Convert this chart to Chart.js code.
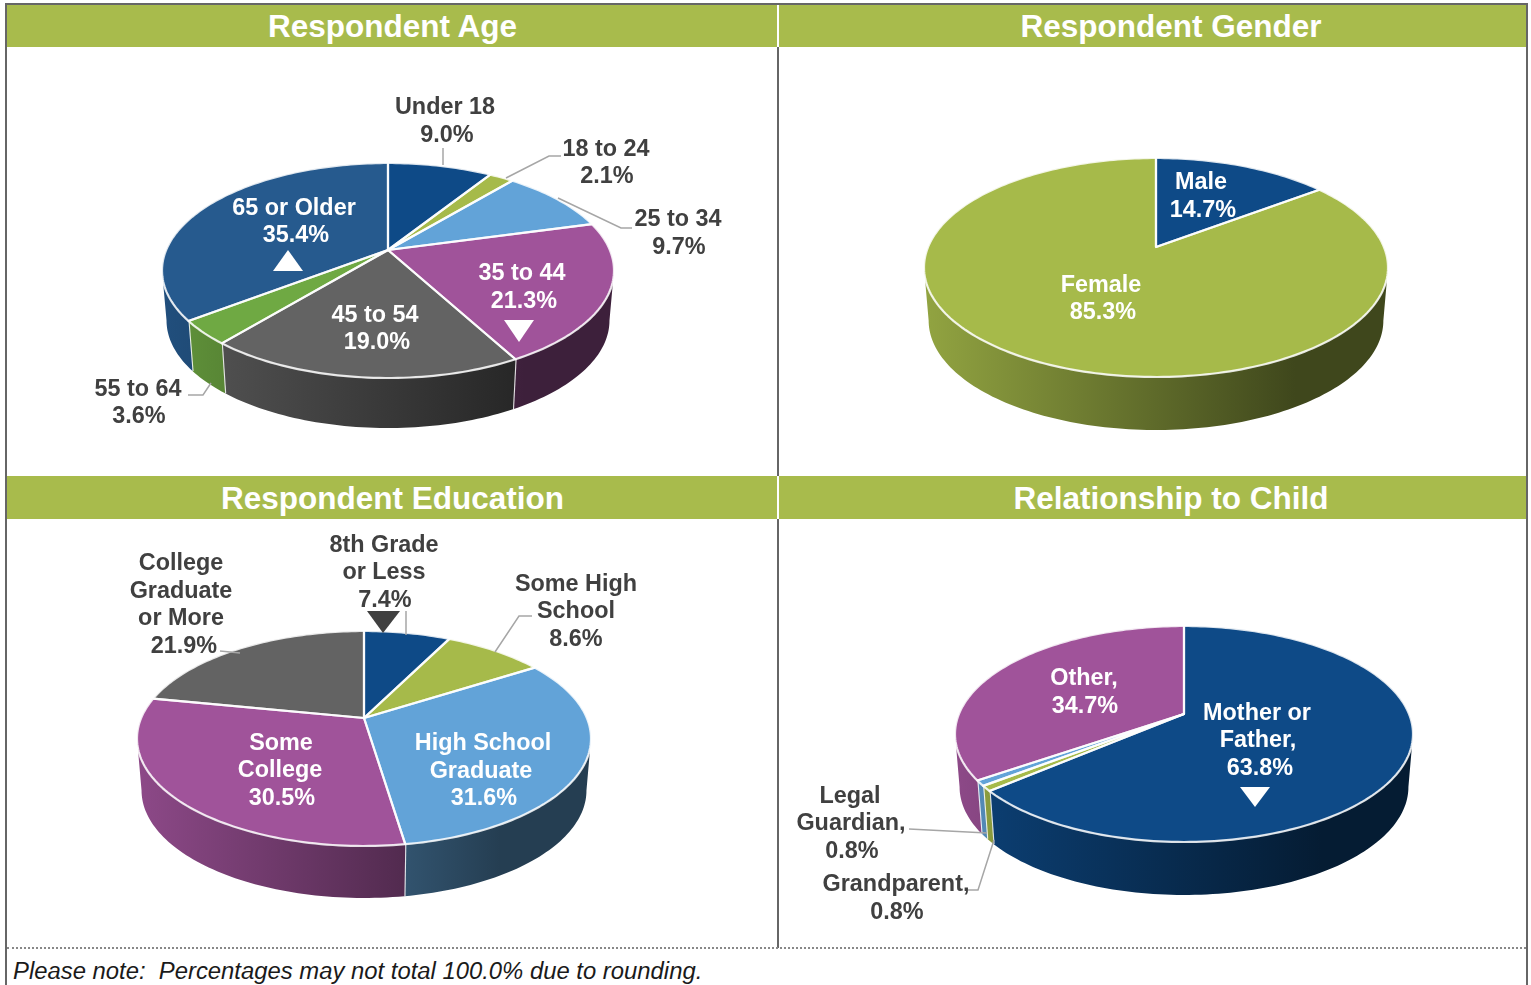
<!DOCTYPE html>
<html>
<head>
<meta charset="utf-8">
<title>Respondent charts</title>
<script src="https://cdn.jsdelivr.net/npm/chart.js@4"></script>
<style>
  html, body { margin: 0; padding: 0; background: #fff; overflow: hidden; }
  body { width: 1531px; height: 985px; position: relative; font-family: 'Liberation Sans', Arial, sans-serif; }
  canvas { position: absolute; }
  .bar { position: absolute; background: #666; }
  .head { position: absolute; height: 42px; line-height: 42px; background: #a8bb4c; color: #fff;
    font-size: 31.5px; font-weight: bold; text-align: center; box-sizing: border-box; }
  .note { position: absolute; left: 13px; top: 957px; font-size: 23.85px; line-height: 28px; font-style: italic;
    color: #1a1a1a; white-space: pre; }
  .dots { position: absolute; left: 7px; top: 947px; width: 1519px; border-top: 2px dotted #888; }
</style>
</head>
<body>
<div class="bar" style="left:5px;top:3px;width:1523px;height:2px"></div>
<div class="bar" style="left:5px;top:3px;width:2px;height:982px"></div>
<div class="bar" style="left:1526px;top:3px;width:2px;height:982px"></div>
<div class="bar" style="left:777px;top:47px;width:2px;height:429px"></div>
<div class="bar" style="left:777px;top:519px;width:2px;height:429px"></div>

<div class="head" style="left:7px;top:5px;width:770px;padding-left:1px">Respondent Age</div>
<div class="head" style="left:779px;top:5px;width:747px;padding-left:37px">Respondent Gender</div>
<div class="head" style="left:7px;top:476px;width:770px;height:43px;line-height:44px;padding-left:1px">Respondent Education</div>
<div class="head" style="left:779px;top:476px;width:747px;height:43px;line-height:44px;padding-left:37px">Relationship to Child</div>

<canvas id="ageChart" width="770" height="428" style="left:7px;top:47px"></canvas>
<canvas id="genderChart" width="747" height="428" style="left:779px;top:47px"></canvas>
<canvas id="eduChart" width="770" height="428" style="left:7px;top:519px"></canvas>
<canvas id="relChart" width="747" height="428" style="left:779px;top:519px"></canvas>

<div class="dots"></div>
<div class="note">Please note:  Percentages may not total 100.0% due to rounding.</div>

<script>
const NAVY = '#0e4a87', OLIVE = '#a6ba4a', SKY = '#62a3d8', PURPLE = '#a0539a',
  GRAY = '#636363', GREEN = '#6fa943', STEEL = '#265a8e';

const ageLabels = [['Under 18'], ['18 to 24'], ['25 to 34'], ['35 to 44'], ['45 to 54'], ['55 to 64'], ['65 or Older']];
const ageValues = [9.0, 2.1, 9.7, 21.3, 19.0, 3.6, 35.4];
const ageColors = [NAVY, OLIVE, SKY, PURPLE, GRAY, GREEN, STEEL];

const genderLabels = [['Male'], ['Female']];
const genderValues = [14.7, 85.3];
const genderColors = [NAVY, OLIVE];

const eduLabels = [['8th Grade', 'or Less'], ['Some High', 'School'], ['High School', 'Graduate'], ['Some', 'College'], ['College', 'Graduate', 'or More']];
const eduValues = [7.4, 8.6, 31.6, 30.5, 21.9];
const eduColors = [NAVY, OLIVE, SKY, PURPLE, GRAY];

const relLabels = [['Mother or', 'Father,'], ['Grandparent,'], ['Legal', 'Guardian,'], ['Other,']];
const relValues = [63.8, 0.8, 0.8, 34.7];
const relColors = [NAVY, OLIVE, SKY, PURPLE];

// page-space centre of each text line, per slice
const agePos = [
  [[445, 108], [447, 136]], [[606, 150], [607, 177]], [[678, 220], [679, 248]],
  [[522, 274], [524, 302]], [[375, 316], [377, 343]], [[138, 390], [139, 417]], [[294, 209], [296, 236]]
];
const genderPos = [[[1201, 183], [1203, 211]], [[1101, 286], [1103, 313]]];
const eduPos = [
  [[384, 546], [384, 573], [385, 601]], [[576, 585], [576, 612], [576, 640]],
  [[483, 744], [481, 772], [484, 799]], [[281, 744], [280, 771], [282, 799]],
  [[181, 564], [181, 592], [181, 619], [184, 647]]
];
const relPos = [
  [[1257, 714], [1258, 741], [1260, 769]], [[896, 885], [897, 913]],
  [[850, 797], [851, 824], [852, 852]], [[1084, 679], [1085, 707]]
];

function shade(hex, f) {
  const n = parseInt(hex.slice(1), 16);
  return 'rgb(' + Math.round((n >> 16) * f) + ',' + Math.round(((n >> 8) & 255) * f) + ',' + Math.round((n & 255) * f) + ')';
}

// the tilted pie: a circle seen in perspective, so the apex sits above the middle of the ellipse
function tilt(g) {
  const k = (g.front - g.back) / (g.front + g.back);
  return {
    k: k,
    a: g.halfWidth * Math.sqrt(1 - k * k),
    b: g.front * (1 - k),
    point: function (theta, drop, shrink) {
      const x = Math.sin(theta), y = -Math.cos(theta), d = 1 - k * y;
      return [g.x + this.a * x / d * shrink, g.y + this.b * y / d + drop];
    }
  };
}

const tiltPlugin = {
  id: 'tiltPie',
  beforeDatasetDraw(chart) {
    const o = chart.options.plugins.tiltPie, g = o.geo, ctx = chart.ctx, t = tilt(g);
    const arcs = chart.getDatasetMeta(0).data, colors = chart.data.datasets[0].backgroundColor;
    const wallFrom = Math.PI / 2 + Math.asin(t.k), wallTo = 3 * Math.PI / 2 - Math.asin(t.k);
    const STEPS = 4;

    ctx.save();
    ctx.translate(-o.offset[0], -o.offset[1]);

    // side walls
    arcs.forEach(function (arc, i) {
      const s = Math.max(arc.startAngle + Math.PI / 2, wallFrom), e = Math.min(arc.endAngle + Math.PI / 2, wallTo);
      if (e <= s) return;
      const n = Math.max(2, Math.ceil((e - s) * 180 / STEPS));
      const grad = ctx.createLinearGradient(g.x - g.halfWidth, 0, g.x + g.halfWidth, 0);
      grad.addColorStop(0, shade(colors[i], 0.88));
      grad.addColorStop(0.8, shade(colors[i], 0.38));
      grad.addColorStop(1, shade(colors[i], 0.38));
      ctx.beginPath();
      for (let j = 0; j <= n; j++) {
        const p = t.point(s + (e - s) * j / n, 0, 1);
        j ? ctx.lineTo(p[0], p[1]) : ctx.moveTo(p[0], p[1]);
      }
      for (let j = n; j >= 0; j--) {
        const p = t.point(s + (e - s) * j / n, g.depth, g.shrink);
        ctx.lineTo(p[0], p[1]);
      }
      ctx.closePath();
      ctx.fillStyle = grad;
      ctx.fill();
      if (e < wallTo) {
        const p = t.point(e, 0, 1), q = t.point(e, g.depth, g.shrink);
        ctx.beginPath();
        ctx.moveTo(p[0], p[1]);
        ctx.lineTo(q[0], q[1]);
        ctx.strokeStyle = 'rgba(255,255,255,0.85)';
        ctx.lineWidth = 2.2;
        ctx.stroke();
      }
    });

    // top face
    arcs.forEach(function (arc, i) {
      const s = arc.startAngle + Math.PI / 2, e = arc.endAngle + Math.PI / 2;
      const n = Math.max(2, Math.ceil((e - s) * 180 / STEPS));
      ctx.beginPath();
      ctx.moveTo(g.x, g.y);
      for (let j = 0; j <= n; j++) {
        const p = t.point(s + (e - s) * j / n, 0, 1);
        ctx.lineTo(p[0], p[1]);
      }
      ctx.closePath();
      ctx.fillStyle = colors[i];
      ctx.fill();
    });
    arcs.forEach(function (arc) {
      const s = arc.startAngle + Math.PI / 2, e = arc.endAngle + Math.PI / 2;
      const n = Math.max(2, Math.ceil((e - s) * 180 / STEPS));
      ctx.beginPath();
      ctx.moveTo(g.x, g.y);
      for (let j = 0; j <= n; j++) {
        const p = t.point(s + (e - s) * j / n, 0, 1);
        ctx.lineTo(p[0], p[1]);
      }
      ctx.closePath();
      ctx.strokeStyle = 'rgba(255,255,255,0.85)';
      ctx.lineWidth = 2.2;
      ctx.lineJoin = 'round';
      ctx.stroke();
    });
    ctx.restore();
    return false;
  },
  afterDatasetsDraw(chart) {
    const o = chart.options.plugins.tiltPie, ctx = chart.ctx;
    const labels = chart.data.labels, values = chart.data.datasets[0].data;
    ctx.save();
    ctx.translate(-o.offset[0], -o.offset[1]);

    ctx.strokeStyle = '#a6a6a6';
    ctx.lineWidth = 1.5;
    o.leaders.forEach(function (line) {
      ctx.beginPath();
      line.forEach(function (p, j) { j ? ctx.lineTo(p[0], p[1]) : ctx.moveTo(p[0], p[1]); });
      ctx.stroke();
    });

    o.marks.forEach(function (m) {
      ctx.beginPath();
      ctx.moveTo(m.pts[0][0], m.pts[0][1]);
      ctx.lineTo(m.pts[1][0], m.pts[1][1]);
      ctx.lineTo(m.pts[2][0], m.pts[2][1]);
      ctx.closePath();
      ctx.fillStyle = m.color;
      ctx.fill();
    });

    ctx.font = 'bold 23.4px "Liberation Sans", Arial, sans-serif';
    ctx.textAlign = 'center';
    ctx.textBaseline = 'middle';
    labels.forEach(function (lines, i) {
      const all = lines.concat([values[i].toFixed(1) + '%']);
      ctx.fillStyle = o.inside.indexOf(i) >= 0 ? '#ffffff' : '#404040';
      all.forEach(function (txt, j) {
        ctx.fillText(txt, o.pos[i][j][0], o.pos[i][j][1]);
      });
    });
    ctx.restore();
  }
};

function makePie(id, labels, values, colors, extra) {
  return new Chart(document.getElementById(id), {
    type: 'pie',
    data: {
      labels: labels,
      datasets: [{ data: values, backgroundColor: colors }]
    },
    options: {
      responsive: false,
      animation: false,
      events: [],
      plugins: {
        legend: { display: false },
        tooltip: { enabled: false },
        tiltPie: extra
      }
    },
    plugins: [tiltPlugin]
  });
}

makePie('ageChart', ageLabels, ageValues, ageColors, {
  offset: [7, 47],
  geo: { x: 388, y: 250, back: 87, front: 128, halfWidth: 226, depth: 50, shrink: 0.98 },
  pos: agePos,
  inside: [3, 4, 6],
  leaders: [
    [[443, 148], [443, 165]],
    [[506, 178], [549, 156], [561, 156]],
    [[558, 198], [621, 228], [632, 228]],
    [[188, 395], [203, 395], [211, 383]]
  ],
  marks: [
    { pts: [[288, 250], [273, 271], [303, 271]], color: '#fff' },
    { pts: [[504, 320], [534, 320], [519, 342]], color: '#fff' }
  ]
});

makePie('genderChart', genderLabels, genderValues, genderColors, {
  offset: [779, 47],
  geo: { x: 1156, y: 247, back: 89, front: 130, halfWidth: 232, depth: 53, shrink: 0.98 },
  pos: genderPos,
  inside: [0, 1],
  leaders: [],
  marks: []
});

makePie('eduChart', eduLabels, eduValues, eduColors, {
  offset: [7, 519],
  geo: { x: 364, y: 718, back: 87, front: 128, halfWidth: 227, depth: 52, shrink: 0.98 },
  pos: eduPos,
  inside: [2, 3],
  leaders: [
    [[406, 611], [406, 635]],
    [[532, 616], [519, 616], [495, 652]],
    [[220, 651], [240, 653]]
  ],
  marks: [
    { pts: [[367, 611], [400, 611], [383, 633]], color: '#404040' }
  ]
});

makePie('relChart', relLabels, relValues, relColors, {
  offset: [779, 519],
  geo: { x: 1184, y: 714, back: 88, front: 128, halfWidth: 229, depth: 53, shrink: 0.98 },
  pos: relPos,
  inside: [0, 3],
  leaders: [
    [[909, 829], [987, 833]],
    [[994, 840], [978, 890], [968, 890]]
  ],
  marks: [
    { pts: [[1240, 787], [1270, 787], [1255, 807]], color: '#fff' }
  ]
});
</script>
</body>
</html>
